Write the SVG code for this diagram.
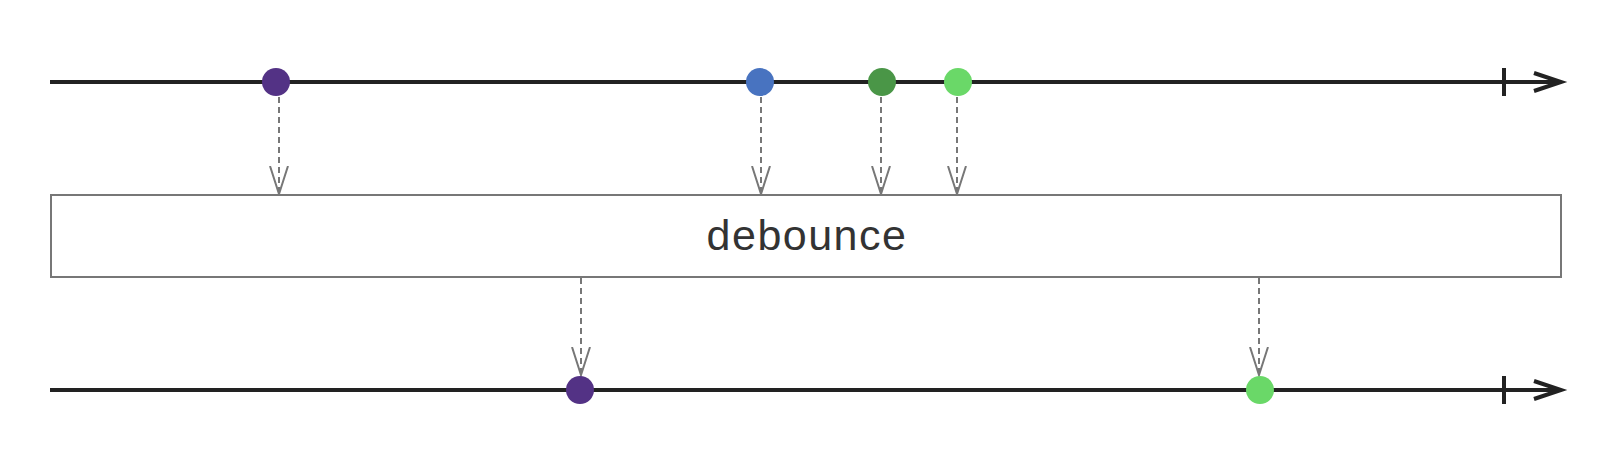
<svg xmlns="http://www.w3.org/2000/svg" width="1616" height="462" viewBox="0 0 1616 462">
<style>
.timeline{stroke:#222;stroke-width:4;fill:none}
.end{stroke:#222;stroke-width:4;fill:none;stroke-linecap:butt}
.conn{stroke:#777;stroke-width:2;stroke-dasharray:6,4;fill:none}
.box{fill:#fff;stroke:#777;stroke-width:2}
.label{font-family:"Liberation Sans",Arial,sans-serif;font-size:43px;letter-spacing:1.5px;fill:#333;text-anchor:middle}
</style>
<defs>
<marker id="open" viewBox="0 0 30 20" refX="28" refY="10" markerWidth="30" markerHeight="20" markerUnits="userSpaceOnUse" orient="auto">
<path d="M0,1 L28,10 L0,19" fill="none" stroke="#777" stroke-width="2"/>
</marker>
</defs>
<rect width="1616" height="462" fill="#fff"/>
<g id="input-timeline">
<line class="timeline" x1="50" y1="82" x2="1558" y2="82"/>
<line class="end" x1="1504" y1="68" x2="1504" y2="96"/>
<polyline class="end" points="1534,73 1561,82 1534,91"/>
</g>
<g id="output-timeline">
<line class="timeline" x1="50" y1="390" x2="1558" y2="390"/>
<line class="end" x1="1504" y1="376" x2="1504" y2="404"/>
<polyline class="end" points="1534,381 1561,390 1534,399"/>
</g>
<g id="connectors">
<line class="conn" x1="279" y1="97" x2="279" y2="194" marker-end="url(#open)"/>
<line class="conn" x1="761" y1="97" x2="761" y2="194" marker-end="url(#open)"/>
<line class="conn" x1="881" y1="97" x2="881" y2="194" marker-end="url(#open)"/>
<line class="conn" x1="957" y1="97" x2="957" y2="194" marker-end="url(#open)"/>
<line class="conn" x1="581" y1="278" x2="581" y2="375" marker-end="url(#open)"/>
<line class="conn" x1="1259" y1="278" x2="1259" y2="375" marker-end="url(#open)"/>
</g>
<g id="debounce">
<rect class="box" x="51" y="195" width="1510" height="82"/>
<text class="label" x="807" y="250">debounce</text>
</g>
<g id="in-1"><circle cx="276" cy="82" r="14" fill="#533285"/></g>
<g id="in-2"><circle cx="760" cy="82" r="14" fill="#4873c0"/></g>
<g id="in-3"><circle cx="882" cy="82" r="14" fill="#4a9647"/></g>
<g id="in-4"><circle cx="958" cy="82" r="14" fill="#6ad868"/></g>
<g id="out-1"><circle cx="580" cy="390" r="14" fill="#533285"/></g>
<g id="out-2"><circle cx="1260" cy="390" r="14" fill="#6ad868"/></g>
</svg>
